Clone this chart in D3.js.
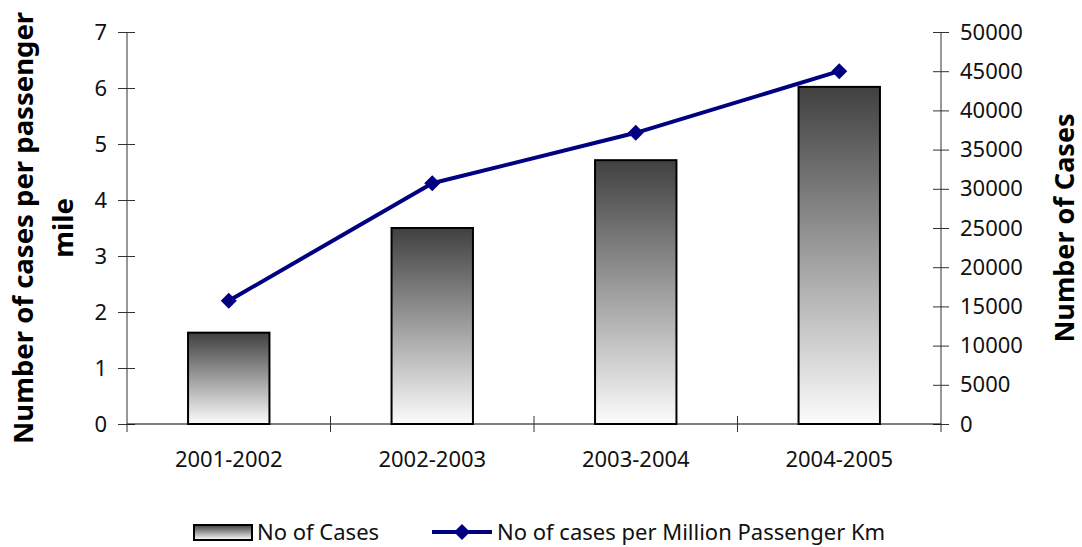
<!DOCTYPE html>
<html>
<head>
<meta charset="utf-8">
<script src="https://cdn.jsdelivr.net/npm/d3@7"></script>
<style>
  html, body { margin: 0; padding: 0; background: #fff; }
  svg { display: block; font-family: "Noto Sans", "Open Sans", sans-serif; }
</style>
</head>
<body>
<svg id="chart" width="1082" height="547"></svg>
<script>
// Data
const years = ["2001-2002", "2002-2003", "2003-2004", "2004-2005"];
const cases = [11650, 25000, 33650, 43000];          // bars, right axis
const casesPerMillionKm = [2.2, 4.3, 5.2, 6.3];      // line, left axis
const leftTicks = [0, 1, 2, 3, 4, 5, 6, 7];
const rightTicks = [0, 5000, 10000, 15000, 20000, 25000, 30000, 35000, 40000, 45000, 50000];

const svg = d3.select("#chart");
const plot = { left: 127, right: 941, top: 32, bottom: 424 };

const x = d3.scaleBand()
  .domain(years)
  .range([plot.left, plot.right])
  .paddingInner(0.6)
  .paddingOuter(0.3);
const xStep = d3.scaleBand().domain(years).range([plot.left, plot.right]);

const yLeft = d3.scaleLinear().domain([0, 7]).range([plot.bottom, plot.top]);
const yRight = d3.scaleLinear().domain([0, 50000]).range([plot.bottom, plot.top]);

// Gradient for the bars: dark at top fading to white
const defs = svg.append("defs");
const grad = defs.append("linearGradient")
  .attr("id", "barGrad").attr("x1", 0).attr("y1", 0).attr("x2", 0).attr("y2", 1);
grad.append("stop").attr("offset", "0%").attr("stop-color", "#404040");
grad.append("stop").attr("offset", "100%").attr("stop-color", "#fcfcfc");

// Bars
svg.append("g").selectAll("rect")
  .data(years)
  .join("rect")
  .attr("x", d => x(d))
  .attr("width", x.bandwidth())
  .attr("y", (d, i) => yRight(cases[i]))
  .attr("height", (d, i) => plot.bottom - yRight(cases[i]))
  .attr("fill", "url(#barGrad)")
  .attr("stroke", "#000")
  .attr("stroke-width", 2);

// Left axis
const axL = svg.append("g")
  .attr("transform", `translate(${plot.left},0)`)
  .call(d3.axisLeft(yLeft).tickValues(leftTicks).tickFormat(d3.format("d")).tickSize(9).tickPadding(11));
axL.select(".domain").attr("d", `M0,${plot.top}V${plot.bottom + 8}`).attr("stroke", "#333");
axL.selectAll(".tick line").attr("x1", -9).attr("x2", 8).attr("stroke", "#333");

// Right axis
const axR = svg.append("g")
  .attr("transform", `translate(${plot.right},0)`)
  .call(d3.axisRight(yRight).tickValues(rightTicks).tickFormat(d3.format("d")).tickSize(8).tickPadding(11));
axR.select(".domain").attr("d", `M0,${plot.top}V${plot.bottom + 8}`).attr("stroke", "#333");
axR.selectAll(".tick line").attr("x1", -8).attr("x2", 8).attr("stroke", "#333");

// Bottom axis
const axB = svg.append("g")
  .attr("transform", `translate(0,${plot.bottom})`)
  .call(d3.axisBottom(xStep).tickSize(0).tickPadding(27));
axB.select(".domain").attr("d", `M${plot.left},0H${plot.right}`).attr("stroke", "#000");
// category separators
axB.selectAll(".sep")
  .data(years.slice(1))
  .join("line")
  .attr("x1", d => xStep(d)).attr("x2", d => xStep(d))
  .attr("y1", -8).attr("y2", 8)
  .attr("stroke", "#333");

svg.selectAll(".tick text")
  .attr("font-size", 22)
  .attr("fill", "#111")
  .attr("font-family", "'Noto Sans', sans-serif");

// Line series
const pts = years.map((d, i) => [x(d) + x.bandwidth() / 2, yLeft(casesPerMillionKm[i])]);
svg.append("path")
  .attr("d", d3.line()(pts))
  .attr("fill", "none")
  .attr("stroke", "#000080")
  .attr("stroke-width", 4)
  .attr("stroke-linejoin", "round");

const diamond = d3.symbol().type(d3.symbolSquare).size(128);
svg.append("g").selectAll("path")
  .data(pts)
  .join("path")
  .attr("d", diamond)
  .attr("transform", d => `translate(${d[0]},${d[1]}) rotate(45)`)
  .attr("fill", "#000080");

// Axis titles
const leftTitle = svg.append("text")
  .attr("transform", "translate(0,228) rotate(-90)")
  .attr("text-anchor", "middle")
  .attr("font-size", 27.5)
  .attr("font-weight", "bold")
  .attr("fill", "#000");
leftTitle.append("tspan").attr("x", 0).attr("y", 33).text("Number of cases per passenger");
leftTitle.append("tspan").attr("x", 0).attr("y", 73).text("mile");

svg.append("text")
  .attr("transform", "translate(1074,228) rotate(-90)")
  .attr("text-anchor", "middle")
  .attr("font-size", 27)
  .attr("font-weight", "bold")
  .attr("fill", "#000")
  .text("Number of Cases");

// Legend
const legend = svg.append("g").attr("font-size", 22).attr("fill", "#111");
legend.append("rect")
  .attr("x", 194).attr("y", 525).attr("width", 58).attr("height", 15)
  .attr("fill", "url(#barGrad)").attr("stroke", "#000").attr("stroke-width", 2);
legend.append("text").attr("x", 257).attr("y", 540).text("No of Cases");

legend.append("line")
  .attr("x1", 432).attr("x2", 492).attr("y1", 532).attr("y2", 532)
  .attr("stroke", "#000080").attr("stroke-width", 4);
legend.append("path")
  .attr("d", diamond)
  .attr("transform", "translate(462,532) rotate(45)")
  .attr("fill", "#000080");
legend.append("text").attr("x", 497).attr("y", 540).text("No of cases per Million Passenger Km");
</script>
</body>
</html>
